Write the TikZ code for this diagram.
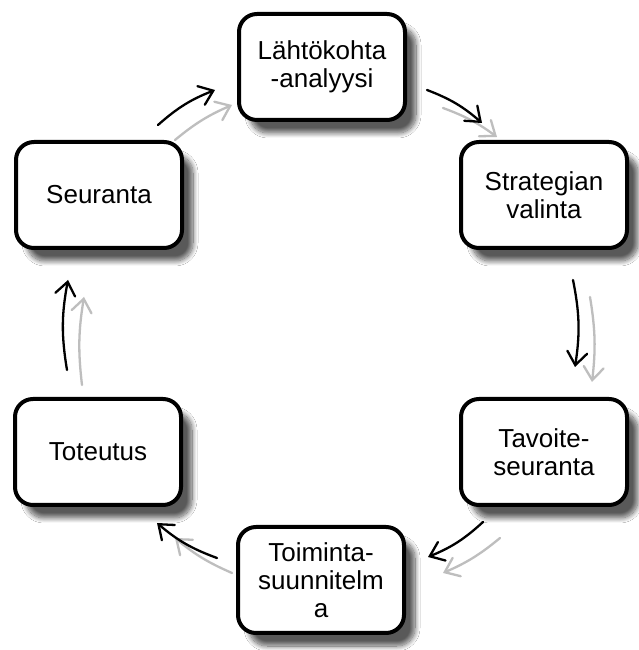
\documentclass[tikz,border=0pt]{standalone}
\usepackage{fontspec}
\setmainfont{Liberation Sans}
\usetikzlibrary{arrows.meta,shadows.blur}
\definecolor{arrgrey}{RGB}{190,190,190}
\tikzset{
  stepbox/.style={draw=black, line width=4pt, fill=white, rounded corners=18pt,
    minimum width=166pt, minimum height=106pt, align=center, inner sep=2pt,
    font=\fontsize{26}{28}\selectfont,
    blur shadow={shadow xshift=11pt, shadow yshift=-13pt, shadow opacity=65,
      shadow blur radius=5pt, shadow blur steps=12}},
  blkarrow/.style={draw=black, line width=2.3pt, line cap=round,
    -{Straight Barb[length=13pt,width=20pt,line cap=round]}},
  gryarrow/.style={draw=arrgrey, line width=2.3pt, line cap=round,
    -{Straight Barb[length=13pt,width=20pt,line cap=round]}}
}
\begin{document}
\begin{tikzpicture}[x=1pt,y=1pt]
\useasboundingbox (0,0) rectangle (639,650);
\fill[white] (0,0) rectangle (639,650);
\node[stepbox] (n1) at (322,583) {Lähtökohta\\-analyysi};
\node[stepbox] (n2) at (544,455) {Strategian\\valinta};
\node[stepbox] (n3) at (544,198) {Tavoite-\\seuranta};
\node[stepbox] (n4) at (321,70) {Toiminta-\\suunnitelm\\a};
\node[stepbox] (n5) at (99,455) {Seuranta};
\node[stepbox] (n6) at (98,198) {Toteutus};
% arrow end points
\coordinate (a1s) at (158,525); \coordinate (a1e) at (215,560);
\coordinate (g1s) at (175,510); \coordinate (g1e) at (232,545);
\coordinate (a2s) at (427,560); \coordinate (a2e) at (482,527);
\coordinate (g2s) at (443,542); \coordinate (g2e) at (497,513);
\coordinate (a3s) at (573,370); \coordinate (a3e) at (575,283);
\coordinate (g3s) at (590,353); \coordinate (g3e) at (592,268);
\coordinate (a4s) at (483,128); \coordinate (a4e) at (428,93);
\coordinate (g4s) at (500,112); \coordinate (g4e) at (443,77);
\coordinate (a5s) at (217,92);  \coordinate (a5e) at (157,127);
\coordinate (g5s) at (232,77);  \coordinate (g5e) at (175,112);
\coordinate (a6s) at (67,280);  \coordinate (a6e) at (68,370);
\coordinate (g6s) at (82,265);  \coordinate (g6e) at (84,353);
% grey shadow arrows
\foreach \i in {1,...,6} { \draw[gryarrow] (g\i s) to[bend left=8] (g\i e); }
% black arrows
\foreach \i in {1,...,6} { \draw[blkarrow] (a\i s) to[bend left=10] (a\i e); }
\end{tikzpicture}
\end{document}
